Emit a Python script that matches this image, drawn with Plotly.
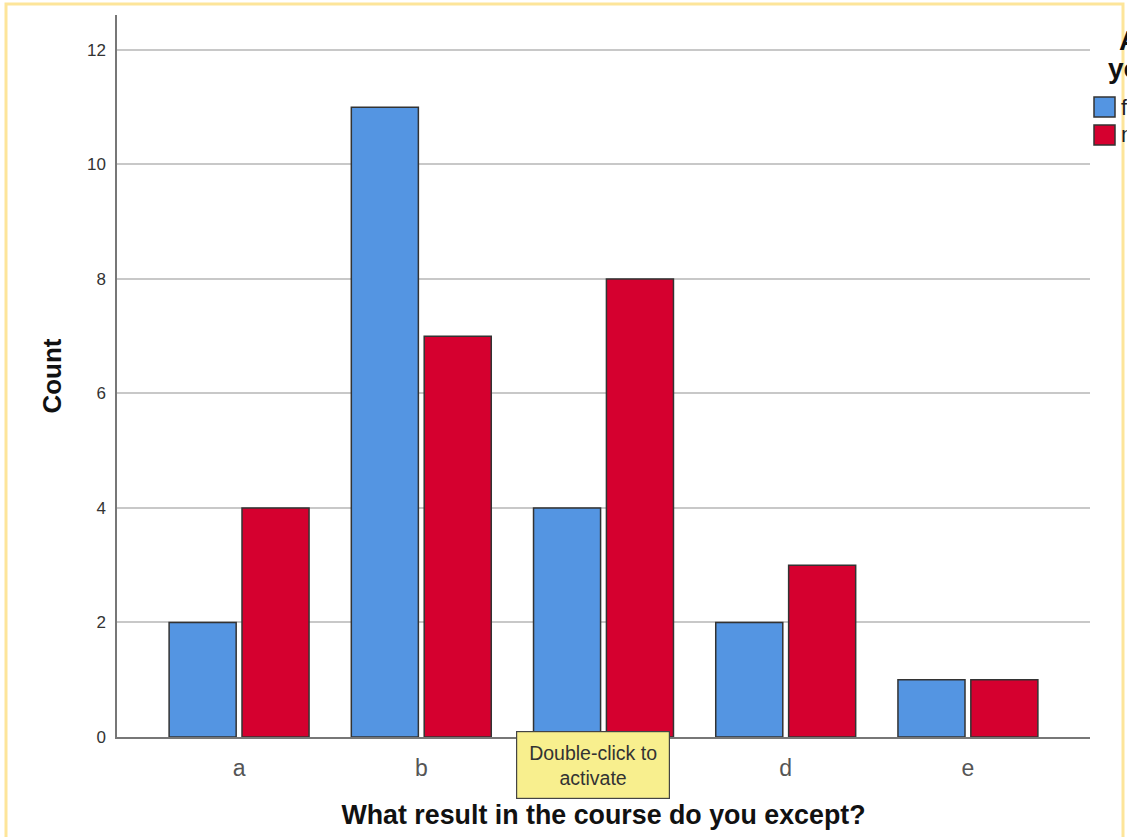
import plotly.graph_objects as go

# Expected course result, counted by respondent group
categories = ["a", "b", "c", "d", "e"]
female_counts = [2, 11, 4, 2, 1]
male_counts = [4, 7, 8, 3, 1]
series_names = ["female", "male"]
series_colors = ["#5495E2", "#D5002F"]
y_ticks = [0, 2, 4, 6, 8, 10, 12]

W, H = 1127, 837
L, R, T, B = 117, 37, 15, 100
PW, PH = W - L - R, H - T - B


def px_x(p):
    return (p - L) / PW


def px_y(p):
    return (H - B - p) / PH


fig = go.Figure()
for name, vals, col in zip(series_names, [female_counts, male_counts], series_colors):
    fig.add_trace(go.Bar(
        x=categories, y=vals, name=name,
        marker=dict(color=col, line=dict(color="#333333", width=1.5)),
        showlegend=False,
    ))

fig.update_layout(
    width=W, height=H,
    margin=dict(l=L, r=R, t=T, b=B, autoexpand=False),
    paper_bgcolor="white", plot_bgcolor="white",
    barmode="group", bargap=0.2, bargroupgap=0.08,
    font=dict(family="Arial, Liberation Sans, sans-serif", color="#333333"),
    xaxis=dict(
        range=[-0.67, 4.67], showgrid=False,
        showline=True, linecolor="#777777", linewidth=1.5,
        ticks="outside", ticklen=10, tickcolor="rgba(0,0,0,0)",
        tickfont=dict(size=23, color="#555555"),
        title=dict(text="<b>What result in the course do you except?</b>",
                   font=dict(size=26.8, color="#111111"), standoff=25),
    ),
    yaxis=dict(
        range=[0, 12.61], tickvals=y_ticks,
        showgrid=True, gridcolor="#C8C8C8", gridwidth=1.5,
        showline=True, linecolor="#777777", linewidth=1.5,
        ticks="outside", ticklen=6, tickcolor="rgba(0,0,0,0)",
        tickfont=dict(size=17, color="#333333"),
        zeroline=False,
        title=dict(text="<b>Count</b>", font=dict(size=26, color="#111111"), standoff=18),
    ),
)

shapes = [
    # outer frame of the viewer
    dict(type="rect", xref="paper", yref="paper",
         x0=px_x(6), x1=px_x(1123), y0=px_y(860), y1=px_y(4),
         line=dict(color="#FDE59A", width=3), fillcolor="rgba(0,0,0,0)", layer="above"),
]
annotations = [
    dict(text="<b>Are</b>", xref="paper", yref="paper", x=px_x(1117), y=px_y(40),
         xanchor="left", yanchor="middle", showarrow=False,
         font=dict(size=28, color="#111111")),
    dict(text="<b>you</b>", xref="paper", yref="paper", x=px_x(1106), y=px_y(69),
         xanchor="left", yanchor="middle", showarrow=False,
         font=dict(size=28, color="#111111")),
]
# legend swatches and labels
for i, (name, col) in enumerate(zip(series_names, series_colors)):
    yc = 107 + 28 * i
    shapes.append(dict(type="rect", xref="paper", yref="paper",
                       x0=px_x(1094), x1=px_x(1115), y0=px_y(yc + 10), y1=px_y(yc - 10),
                       fillcolor=col, line=dict(color="#333333", width=1.5)))
    annotations.append(dict(text=name, xref="paper", yref="paper",
                            x=px_x(1119), y=px_y(yc), xanchor="left", yanchor="middle",
                            showarrow=False, font=dict(size=22, color="#222222")))

# activation hint box
annotations.append(dict(
    text="Double-click to<br>activate", xref="paper", yref="paper",
    x=px_x(593), y=px_y(765), xanchor="center", yanchor="middle",
    showarrow=False, width=146, height=60, align="center",
    bgcolor="#F8EF8E", bordercolor="#444444", borderwidth=1.2, borderpad=3,
    font=dict(size=19.5, color="#333333"),
))

fig.update_layout(shapes=shapes, annotations=annotations)
fig.write_html("out.html")
